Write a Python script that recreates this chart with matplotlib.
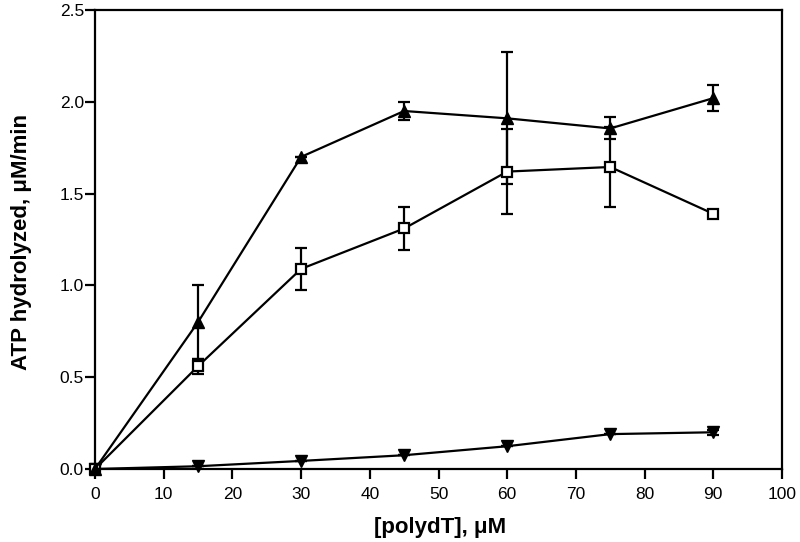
import matplotlib
matplotlib.use("Agg")
import matplotlib.pyplot as plt

plt.rcParams['font.family'] = ['Liberation Sans', 'DejaVu Sans']

x = [0, 15, 30, 45, 60, 75, 90]

tri_up = [0.0, 0.80, 1.70, 1.95, 1.91, 1.855, 2.02]
tri_up_err = [0.0, 0.20, 0.0, 0.05, 0.36, 0.06, 0.07]

square = [0.0, 0.56, 1.09, 1.31, 1.62, 1.645, 1.39]
square_err = [0.0, 0.04, 0.115, 0.117, 0.23, 0.22, 0.0]

tri_down = [0.0, 0.015, 0.044, 0.075, 0.124, 0.19, 0.20]
tri_down_err = [0.0, 0.0, 0.0, 0.0, 0.0, 0.0, 0.015]

xticks = [0, 10, 20, 30, 40, 50, 60, 70, 80, 90, 100]
yticks = [0.0, 0.5, 1.0, 1.5, 2.0, 2.5]

fig = plt.figure(figsize=(8, 5.42), dpi=100)
ax = fig.add_axes([0.11875, 0.1347, 0.85875, 0.8468])

common = dict(color='black', lw=1.6, elinewidth=1.6, capsize=4.5, capthick=1.6, clip_on=False)
ax.errorbar(x, tri_down, yerr=tri_down_err, marker='v', ms=9, mfc='black', mec='black', **common)
ax.errorbar(x, square, yerr=square_err, marker='s', ms=7.5, mfc='white', mec='black', mew=1.6, **common)
ax.errorbar(x, tri_up, yerr=tri_up_err, marker='^', ms=9, mfc='black', mec='black', **common)

ax.set_xlim(0, 100)
ax.set_ylim(0, 2.5)
ax.set_xticks(xticks)
ax.set_yticks(yticks)
ax.set_yticklabels([f"{v:.1f}" for v in yticks])
ax.tick_params(direction='out', length=7, width=1.6, labelsize=12.5)
ax.tick_params(axis='x', pad=6)
ax.tick_params(axis='y', pad=1)
for s in ax.spines.values():
    s.set_linewidth(1.6)

fig.text(0.55, 0.0166, "[polydT], μM", fontsize=16, fontweight='bold', ha='center', va='baseline')
fig.text(0.027, 0.5544, "ATP hydrolyzed, μM/min", fontsize=16, fontweight='bold',
         ha='center', va='center', rotation=90)

fig.savefig("out.png", dpi=100)
